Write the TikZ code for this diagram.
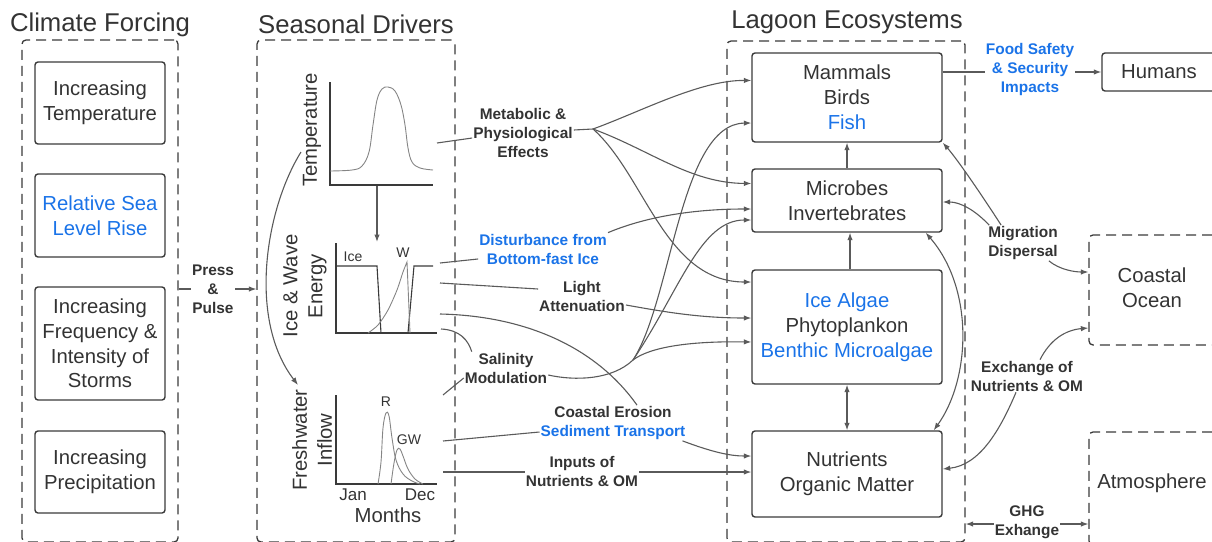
\documentclass[tikz,border=0pt]{standalone}
\usepackage{fontspec}
\setmainfont{Liberation Sans}
\usetikzlibrary{arrows.meta,calc}
\definecolor{textc}{HTML}{333333}
\definecolor{bluec}{HTML}{1A73E8}
\definecolor{linec}{HTML}{5A5A5A}
\definecolor{boxc}{HTML}{3A3A3A}
\definecolor{plotc}{HTML}{858585}
\begin{document}
\begin{tikzpicture}[x=1pt,y=-1pt,
  title/.style={text=textc, font=\fontsize{25.7}{30}\selectfont, inner sep=0pt},
  cont/.style={draw=boxc, line width=1.3pt, dash pattern=on 10pt off 6pt, rounded corners=4pt, inner sep=0pt},
  box/.style={draw=boxc, line width=1.4pt, rounded corners=3pt, inner sep=0pt, align=center, text=textc, font=\fontsize{20.3}{24.8}\selectfont},
  big/.style={text=textc, align=center, inner sep=0pt, font=\fontsize{20.3}{25}\selectfont},
  small/.style={text=textc, inner sep=0pt, font=\fontsize{14}{16}\selectfont},
  lbl/.style={font=\bfseries\fontsize{15.4}{19}\selectfont, text=textc, align=center, inner sep=1pt},
  conn/.style={draw=linec, line width=1.1pt},
  arr/.style={conn, -{Latex[length=7.5pt,width=5.5pt]}},
  darr/.style={conn, {Latex[length=7.5pt,width=5.5pt]}-{Latex[length=7.5pt,width=5.5pt]}},
  axis/.style={draw=boxc, line width=1.5pt},
  pcurve/.style={draw=plotc, line width=0.9pt},
  iceline/.style={draw=boxc, line width=1.1pt}]
\useasboundingbox (0,0) rectangle (1212,541);

% titles
\node[title] (t-clim) at (100,25) {Climate Forcing};
\node[title] (t-seas) at (356,24) {Seasonal Drivers};
\node[title] (t-lag) at (847,22) {Lagoon Ecosystems};

% containers
\node[cont, minimum width=156pt, minimum height=502pt] (clim) at (100,291) {};
\node[cont, minimum width=198pt, minimum height=502pt] (seas) at (356,291) {};
\node[cont, minimum width=238pt, minimum height=501pt] (lag) at (846,291.5) {};
\node[cont, minimum width=127pt, minimum height=110pt] (coastal) at (1152.5,290) {};
\node[cont, minimum width=127pt, minimum height=113pt] (atm) at (1152.5,488.5) {};
\node[big] (coastlbl) at (1152,288) {Coastal\\Ocean};
\node[big] (atmlbl) at (1152,483) {Atmosphere};

% climate forcing boxes
\node[box, minimum width=130pt, minimum height=82pt] (f1) at (100,103) {Increasing\\Temperature};
\node[box, minimum width=130pt, minimum height=83pt, text=bluec] (f2) at (100,215.5) {Relative Sea\\Level Rise};
\node[box, minimum width=130pt, minimum height=113pt] (f3) at (100,343.5) {Increasing\\Frequency \&\\Intensity of\\Storms};
\node[box, minimum width=130pt, minimum height=82pt] (f4) at (100,472) {Increasing\\Precipitation};

% lagoon boxes
\node[box, minimum width=190pt, minimum height=89pt] (mam) at (847,97.5) {Mammals\\Birds\\\textcolor{bluec}{Fish}};
\node[box, minimum width=190pt, minimum height=63pt] (mic) at (847,200.5) {Microbes\\Invertebrates};
\node[box, minimum width=190pt, minimum height=114pt] (phy) at (847,327) {\textcolor{bluec}{Ice Algae}\\Phytoplankon\\\textcolor{bluec}{Benthic Microalgae}};
\node[box, minimum width=190pt, minimum height=86pt] (nut) at (847,474) {Nutrients\\Organic Matter};
\node[box, minimum width=114pt, minimum height=38pt] (hum) at (1159,72) {Humans};

% press & pulse
\node[lbl] (press) at (213,289) {Press\\\&\\Pulse};
\draw[conn] (clim.east |- press) -- (press.west);
\draw[arr] (press.east) -- (seas.west |- press);

% ---- plots ----
% temperature
\draw[axis] (330,82) -- (330,185) -- (433,185);
\draw[pcurve] plot[smooth, tension=0.6] coordinates {(330,171) (352,170) (362,166) (369,152) (373,125) (377,100) (382,89) (388,87) (395,91) (401,105) (405,125) (408,148) (412,162) (420,168) (433,170)};
\node[big, rotate=90] (tlbl) at (312,130) {Temperature};
% ice & wave
\draw[axis] (336,243) -- (336,333) -- (437,333);
\draw[iceline] (336,266) -- (377,266) -- (381,333);
\draw[iceline] (408,333) -- (414,266) -- (433,266);
\draw[pcurve] plot[smooth, tension=0.5] coordinates {(368,333) (378,325) (388,310) (397,290) (403,272) (407,262)} -- (410,333);
\node[small] (icelbl) at (353,257) {Ice};
\node[small] (wlbl) at (403,253) {W};
\node[big, rotate=90] (ilbl) at (305,286) {Ice \& Wave\\Energy};
% freshwater
\draw[axis] (336,395) -- (336,484) -- (437,484);
\draw[pcurve] plot[smooth, tension=0.6] coordinates {(378,484) (381,462) (383,428) (386,413) (389,416) (392,438) (396,460) (403,474) (412,481) (420,484)};
\draw[pcurve] plot[smooth, tension=0.6] coordinates {(391,484) (394,463) (397,450) (400,449) (403,456) (408,469) (415,479) (423,484)};
\node[small] (rlbl) at (386,402) {R};
\node[small] (gwlbl) at (409,440) {GW};
\node[small, font=\fontsize{17}{20}\selectfont] (jan) at (353,495) {Jan};
\node[small, font=\fontsize{17}{20}\selectfont] (dec) at (420,495) {Dec};
\node[big] (months) at (388,515) {Months};
\node[big, rotate=90] (flbl) at (312,440) {Freshwater\\Inflow};

% plot connection points
\coordinate (tp-out) at (437,143);
\coordinate (tp-bot) at (377,186);
\coordinate (ip-top) at (377,242);
\coordinate (tlbl-from) at (301,152);
\coordinate (fw-in) at (298,385);
\coordinate (ip-a) at (440,263);
\coordinate (ip-b) at (440,283);
\coordinate (ip-c) at (440,314);
\coordinate (ip-d) at (441,329);
\coordinate (fp-a) at (443,395);
\coordinate (fp-b) at (443,441);
\coordinate (fp-c) at (443,472);

\draw[arr] (tp-bot) -- (ip-top);
\draw[arr] (tlbl-from) .. controls (265,210) and (248,320) .. (fw-in);

% ---- middle labels ----
\node[lbl] (met) at (523,133) {Metabolic \&\\Physiological\\Effects};
\node[lbl, text=bluec] (dist) at (543,249) {Disturbance from\\Bottom-fast Ice};
\node[lbl] (light) at (582,296) {Light\\Attenuation};
\node[lbl] (sal) at (506,368) {Salinity\\Modulation};
\node[lbl] (coast) at (613,423) {Coastal Erosion\\\textcolor{bluec}{Sediment Transport}};
\node[lbl] (inputs) at (582,471) {Inputs of\\Nutrients \& OM};

% metabolic
\coordinate (methub) at (593,129);
\draw[conn] (tp-out) -- ([yshift=-5pt]met.west);
\draw[conn] ([yshift=3pt]met.east) -- (methub);
\draw[arr] (methub) .. controls (640,112) and (700,80) .. ([yshift=17pt]mam.west);
\draw[arr] (methub) .. controls (650,150) and (690,183) .. ([yshift=17pt]mic.west);
\draw[arr] (methub) .. controls (645,175) and (665,282) .. ([yshift=45pt]phy.west);

% disturbance
\draw[conn] (ip-a) -- ([yshift=-10pt]dist.west);
\draw[arr] (dist.north east) .. controls (650,215) and (700,209) .. ([yshift=-8.5pt]mic.west);

% light
\draw[conn] (ip-b) -- ([yshift=7pt]light.west);
\draw[arr] ([yshift=-9pt]light.east) .. controls (665,312) and (700,318) .. ([yshift=9pt]phy.west);

% coastal erosion
\draw[conn] (ip-c) .. controls (530,316) and (598,350) .. ([xshift=24pt]coast.north);
\draw[conn] (fp-b) -- ([yshift=-9pt]coast.west);
\draw[arr] ([xshift=-4pt]coast.south east) .. controls (712,452) and (730,456) .. ([yshift=18pt]nut.west);

% salinity
\coordinate (salhub) at (633,360);
\draw[conn] (ip-d) .. controls (460,330) and (468,340) .. ([xshift=8pt]sal.north west);
\draw[conn] (fp-a) -- ([yshift=-10pt]sal.west);
\draw[conn] ([yshift=-7pt]sal.east) .. controls (575,381) and (612,380) .. (salhub);
\draw[arr] (salhub) .. controls (650,347) and (690,341) .. ([yshift=-15pt]phy.west);
\draw[arr] (salhub) .. controls (672,300) and (680,124) .. ([yshift=-25.5pt]mam.west);
\draw[arr] (salhub) .. controls (680,290) and (700,220) .. ([yshift=-19.5pt]mic.west);

% inputs
\draw[conn] (fp-c) -- (inputs.west |- fp-c);
\draw[arr] (inputs.east |- fp-c) -- (nut.west |- fp-c);

% lagoon internal
\draw[arr] (mic.north) -- (mam.south);
\draw[arr] ([xshift=3pt]phy.north) -- ([xshift=3pt]mic.south);
\draw[darr] (phy.south) -- (nut.north);
\draw[darr] ([xshift=-17pt]mic.south east) .. controls (975,290) and (970,380) .. ([xshift=-9pt]nut.north east);

% right side labels
\node[lbl, text=bluec] (food) at (1030,70) {Food Safety\\\& Security\\Impacts};
\node[lbl] (migr) at (1023,243) {Migration\\Dispersal};
\node[lbl] (exch) at (1027,376) {Exchange of\\Nutrients \& OM};
\node[lbl] (ghg) at (1027,522) {GHG\\Exhange};

\draw[conn] (mam.east |- hum.west) -- (food.west |- hum.west);
\draw[arr] (food.east |- hum.west) -- (hum.west);

\draw[arr] ([xshift=14pt]migr.north west) .. controls (985,200) and (958,160) .. (mam.south east);
\draw[arr] ([xshift=2pt]migr.north west) .. controls (975,210) and (960,202) .. ([yshift=-1.5pt]mic.east);
\draw[arr] ([xshift=-10pt]migr.south east) .. controls (1060,270) and (1075,272) .. ([yshift=18pt]coastal.west);

\draw[arr] ([xshift=13pt]exch.north) .. controls (1050,340) and (1065,330) .. ([yshift=-38pt]coastal.west);
\draw[arr] ([xshift=-11pt]exch.south) .. controls (1000,430) and (980,465) .. ([yshift=5pt]nut.east);

\draw[arr] ([yshift=-2pt]ghg.west) -- ([yshift=-2pt]lag.east |- ghg);
\draw[arr] ([yshift=-2pt]ghg.east) -- ([yshift=-2pt]atm.west |- ghg);
\end{tikzpicture}
\end{document}
